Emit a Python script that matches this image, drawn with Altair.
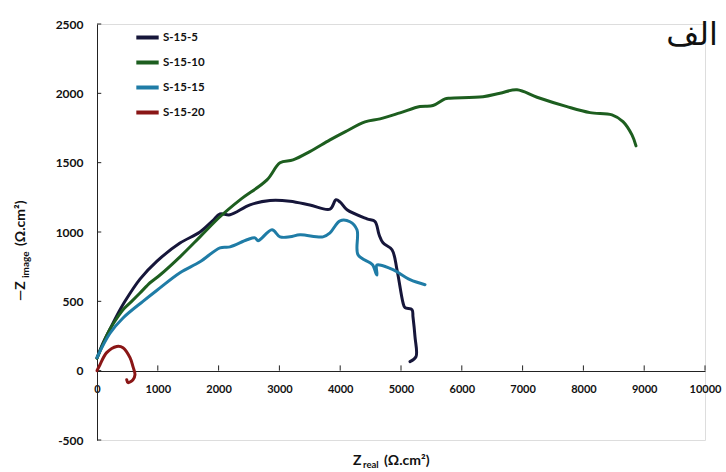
import altair as alt
import pandas as pd

# ---- data ----
s5_x = [0, 100, 214, 324, 460, 707, 987, 1365, 1694, 1900, 2023, 2188, 2516, 2845, 3174, 3500, 3832, 3931, 4000, 4112, 4441, 4572, 4640, 4704, 4852, 4934, 5033, 5066, 5181, 5197, 5230, 5247, 5148]
s5_y = [90, 200, 300, 395, 500, 660, 790, 920, 1000, 1080, 1130, 1124, 1196, 1227, 1222, 1195, 1165, 1232, 1215, 1160, 1095, 1076, 980, 922, 872, 728, 490, 454, 440, 389, 245, 101, 65]

s10_x = [0, 107, 214, 330, 428, 570, 707, 816, 872, 1036, 1365, 1694, 2023, 2352, 2796, 3010, 3224, 3500, 3832, 4079, 4408, 4655, 4983, 5312, 5526, 5724, 5806, 6349, 6628, 6908, 7237, 7730, 8109, 8470, 8651, 8799, 8865]
s10_y = [90, 200, 300, 380, 440, 500, 560, 610, 634, 690, 821, 965, 1110, 1232, 1376, 1499, 1520, 1580, 1664, 1722, 1794, 1816, 1859, 1905, 1912, 1960, 1965, 1976, 2001, 2025, 1972, 1904, 1861, 1845, 1796, 1700, 1621]

s15_x = [0, 214, 428, 756, 987, 1365, 1694, 2023, 2188, 2467, 2599, 2648, 2878, 3010, 3174, 3339, 3717, 3832, 3997, 4161, 4276, 4293, 4490, 4539, 4590, 4605, 4600, 4650, 4868, 5148, 5395]
s15_y = [95, 270, 380, 500, 580, 706, 785, 886, 893, 944, 958, 937, 1016, 965, 965, 980, 965, 994, 1081, 1074, 1016, 836, 778, 760, 700, 690, 760, 762, 728, 656, 620]

s20_x = [0, 49, 159, 324, 428, 543, 592, 625, 592, 510, 488]
s20_y = [0, 43, 130, 175, 166, 94, 29, -29, -65, -86, -65]

series_names = ["S-15-5", "S-15-10", "S-15-15", "S-15-20"]
series_colors = ["#16163a", "#1d5e1f", "#1f7ca6", "#8a1616"]

x_ticks = [1000, 2000, 3000, 4000, 5000, 6000, 7000, 8000, 9000, 10000]
y_ticks = [-500, 0, 500, 1000, 1500, 2000, 2500]

rows = []
for name, xs, ys in zip(series_names, [s5_x, s10_x, s15_x, s20_x], [s5_y, s10_y, s15_y, s20_y]):
    for i, (xv, yv) in enumerate(zip(xs, ys)):
        rows.append({"series": name, "i": i, "x": xv, "y": yv})
df = pd.DataFrame(rows)

FONT = "Lato"

xscale = alt.Scale(domain=[0, 10000], nice=False)
yscale = alt.Scale(domain=[-500, 2500], nice=False)

lines = alt.Chart(df).mark_line(strokeWidth=3, strokeCap="round", strokeJoin="round",
                                interpolate="catmull-rom").encode(
    x=alt.X("x:Q", scale=xscale,
            axis=alt.Axis(title=None, values=[0] + x_ticks, format="d", ticks=False,
                          grid=False, offset=-69, labelFont=FONT, labelFontWeight="bold",
                          labelFontSize=11, labelColor="#111", labelPadding=12,
                          domainColor="#222", labelFlush=False)),
    y=alt.Y("y:Q", scale=yscale,
            axis=alt.Axis(title=None, values=y_ticks, format="d", ticks=False, grid=False,
                          labelFont=FONT, labelFontWeight="bold", labelFontSize=12,
                          labelColor="#111", labelPadding=14, domainColor="#222",
                          labelExpr="replace(datum.label, '\u2212', '-')")),
    color=alt.Color("series:N",
                    scale=alt.Scale(domain=series_names, range=series_colors),
                    legend=alt.Legend(title=None, orient="none", legendX=37, legendY=0,
                                      symbolType="stroke", symbolStrokeWidth=4,
                                      symbolSize=500, labelFont=FONT, labelFontWeight="bold",
                                      labelFontSize=11.5, labelColor="#111",
                                      rowPadding=3, labelOffset=2, padding=0)),
    order=alt.Order("i:Q"),
)

xt = alt.Chart(pd.DataFrame({"v": x_ticks})).mark_rule(color="#222", strokeWidth=1).encode(
    x=alt.X("v:Q", scale=xscale), y=alt.datum(0), y2=alt.datum(38))
yt = alt.Chart(pd.DataFrame({"v": y_ticks})).mark_rule(color="#222", strokeWidth=1).encode(
    y=alt.Y("v:Q", scale=yscale), x=alt.datum(0), x2=alt.datum(70))

def label(txt, x, y, size=13, angle=0, font=FONT, align="left", weight="bold"):
    kw = dict(font=font, fontSize=size, fontWeight=weight, align=align, baseline="middle", color="#111")
    if angle:
        kw["angle"] = angle
    return alt.Chart(pd.DataFrame({"t": [txt]})).mark_text(**kw).encode(
        x=alt.value(x), y=alt.value(y), text="t:N")

# positions relative to the plot origin (97, 24)
titles = [
    label("Z", 353 - 97, 461 - 24, 14),
    label("real", 363 - 97, 465 - 24, 9.5),
    label("(Ω.cm²)", 384 - 97, 461 - 24, 14),
    label("—Z", 21 - 97, 301 - 24, 14, angle=270),
    label("image", 26 - 97, 278 - 24, 10, angle=270),
    label("(Ω.cm²)", 21 - 97, 246 - 24, 14, angle=270),
    label("الف", 718 - 97, 35 - 24, 32, font="DejaVu Sans", align="right", weight="normal"),
]

chart = alt.layer(xt, yt, lines, *titles).properties(
    width=608, height=416,
    autosize=alt.AutoSizeParams(type="none"),
    padding={"left": 97, "top": 24, "right": 21, "bottom": 32},
).configure_view(stroke=None).configure(background="white")

chart.save("out.html", embed_options={"renderer": "svg", "actions": False})
